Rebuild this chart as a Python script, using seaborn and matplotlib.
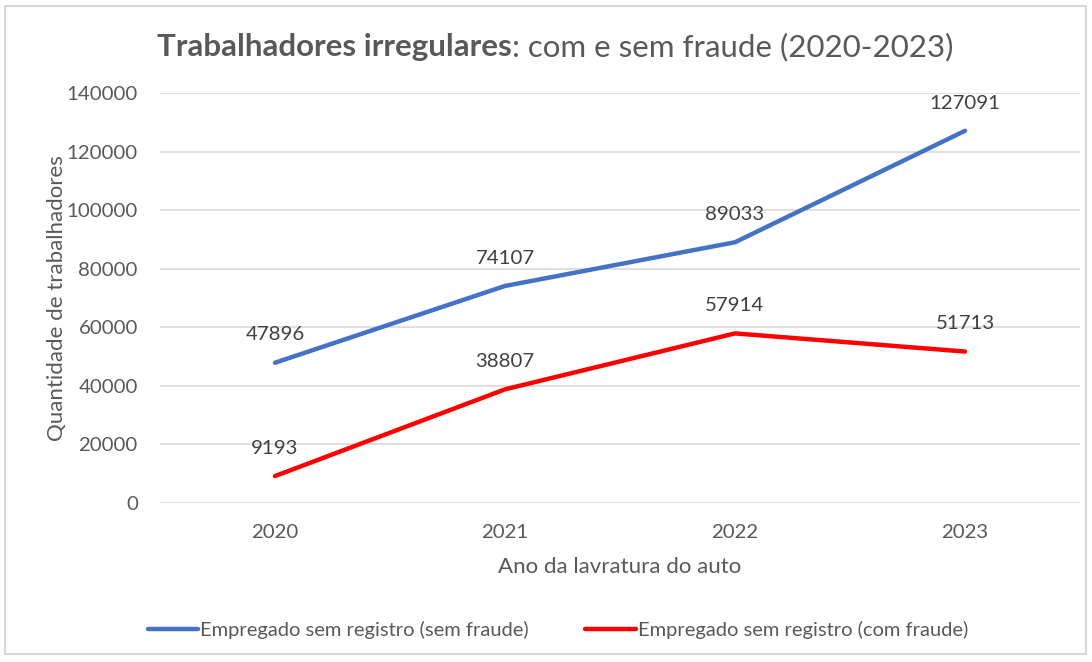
import matplotlib
matplotlib.use("Agg")
from matplotlib import pyplot as plt
from matplotlib.patches import Rectangle
import seaborn as sns
import pandas as pd

anos = ["2020", "2021", "2022", "2023"]
sem_fraude = [47896, 74107, 89033, 127091]
com_fraude = [9193, 38807, 57914, 51713]
serie_sem = "Empregado sem registro (sem fraude)"
serie_com = "Empregado sem registro (com fraude)"
yticks = [0, 20000, 40000, 60000, 80000, 100000, 120000, 140000]

df = pd.DataFrame({
    "ano": anos * 2,
    "valor": sem_fraude + com_fraude,
    "serie": [serie_sem] * len(anos) + [serie_com] * len(anos),
})

sns.set_theme(style="white")
plt.rcParams["font.family"] = ["Lato", "DejaVu Sans"]
cinza = "#595959"

fig = plt.figure(figsize=(10.92, 6.62), dpi=100)
ax = fig.add_axes([0.1465, 0.2402, 0.8425, 0.6193])

sns.lineplot(
    data=df, x="ano", y="valor", hue="serie",
    palette={serie_sem: "#4472C4", serie_com: "#FF0000"},
    linewidth=3.2, ax=ax, legend=True,
)

ax.set_xlim(-0.5, len(anos) - 0.5)
ax.set_ylim(0, 140000)
ax.set_yticks(yticks)
ax.set_yticklabels([str(v) for v in yticks])
ax.grid(axis="y", color="#d9d9d9", linewidth=1.2)
ax.set_axisbelow(True)
for s in ax.spines.values():
    s.set_visible(False)
ax.tick_params(axis="both", length=0, labelsize=14.7, labelcolor=cinza)
ax.tick_params(axis="y", pad=16)
ax.tick_params(axis="x", pad=15)

ax.set_xlabel("Ano da lavratura do auto", fontsize=16, color=cinza, labelpad=12)
ax.set_ylabel("Quantidade de trabalhadores", fontsize=16, color=cinza, labelpad=0)

for serie, vals in [(serie_sem, sem_fraude), (serie_com, com_fraude)]:
    for i, v in enumerate(vals):
        ax.annotate(str(v), (i, v), xytext=(0, 20), textcoords="offset points",
                    ha="center", va="center", fontsize=14.7, color="#404040")

handles, labels = ax.get_legend_handles_labels()
ax.get_legend().remove()
leg = fig.legend(handles, labels, loc="center", bbox_to_anchor=(558 / 1092, 1 - 630 / 662),
                 ncol=2, frameon=False, fontsize=14.5, handlelength=2.5,
                 handletextpad=0.1, columnspacing=2.8)
for t in leg.get_texts():
    t.set_color(cinza)

# title with bold first part
fig.canvas.draw()
r = fig.canvas.get_renderer()
t1 = fig.text(0, 0, "Trabalhadores irregulares", fontsize=22.5, fontweight="bold",
              color=cinza, va="center")
t2 = fig.text(0, 0, ": com e sem fraude (2020-2023)", fontsize=22.5, color=cinza,
              va="center")
w1 = t1.get_window_extent(r).width
w2 = t2.get_window_extent(r).width
x0 = (555 - (w1 + w2) / 2) / 1092
t1.set_position((x0, 1 - 47 / 662))
t2.set_position((x0 + w1 / 1092, 1 - 47 / 662))

fig.patches.append(Rectangle((5 / 1092, 8 / 662), 1081 / 1092, 648 / 662,
                             transform=fig.transFigure, fill=False,
                             edgecolor="#d0d0d0", linewidth=1.2))

fig.savefig("out.png", dpi=100)
